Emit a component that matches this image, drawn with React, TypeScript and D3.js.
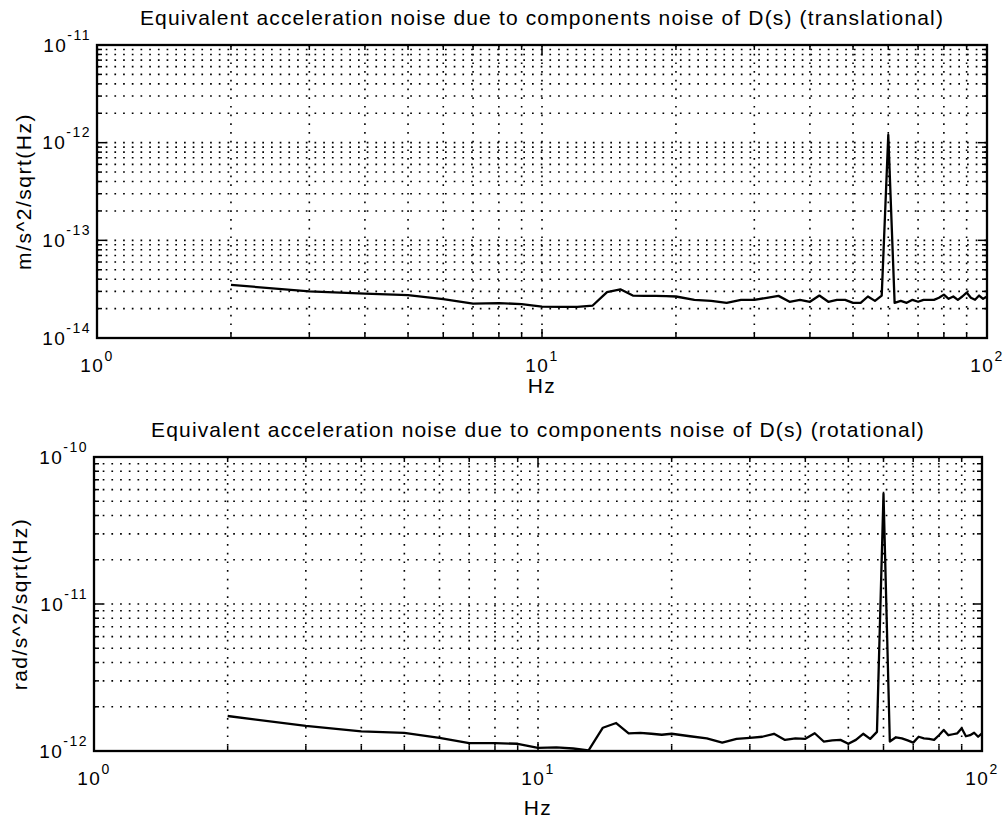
import * as d3 from 'd3';

// frequency bins (Hz)
const freqHz = [
  2, 3, 4, 5, 6, 7, 8, 9, 10, 11, 12, 13, 14, 15, 16, 17, 18, 19, 20,
  22, 24, 26, 28, 30, 32, 34, 36, 38, 40, 42, 44, 46, 48, 50, 52, 54, 56, 58,
  60, 62, 64, 66, 68, 70, 72, 74, 76, 78, 80, 82, 84, 86, 88, 90, 92, 94, 96, 98, 100,
];

// translational noise, units of 1e-14 m/s^2/sqrt(Hz)
const translational = [
  3.5, 3.0, 2.85, 2.75, 2.5, 2.25, 2.28, 2.22, 2.1, 2.08, 2.08, 2.15, 2.95, 3.15, 2.72, 2.7, 2.7, 2.68, 2.66,
  2.46, 2.4, 2.29, 2.46, 2.46, 2.58, 2.7, 2.35, 2.46, 2.35, 2.72, 2.35, 2.46, 2.46, 2.29, 2.29, 2.66, 2.4, 2.72,
  120, 2.29, 2.4, 2.29, 2.46, 2.35, 2.46, 2.46, 2.46, 2.58, 2.78, 2.52, 2.66, 2.46, 2.66, 2.92, 2.58, 2.46, 2.72, 2.52, 2.66,
];

// rotational noise, units of 1e-12 rad/s^2/sqrt(Hz)
const rotational = [
  1.73, 1.48, 1.36, 1.33, 1.23, 1.13, 1.13, 1.12, 1.05, 1.06, 1.04, 1.01, 1.44, 1.55, 1.32, 1.33, 1.31, 1.29, 1.31,
  1.26, 1.22, 1.14, 1.21, 1.23, 1.25, 1.31, 1.19, 1.22, 1.21, 1.32, 1.16, 1.18, 1.19, 1.12, 1.19, 1.31, 1.21, 1.35,
  56, 1.16, 1.24, 1.22, 1.18, 1.14, 1.25, 1.22, 1.21, 1.19, 1.28, 1.39, 1.28, 1.30, 1.32, 1.43, 1.26, 1.28, 1.33, 1.25, 1.32,
];

const xTickExp = [0, 1, 2];
const topYExp = [-14, -13, -12, -11];
const botYExp = [-12, -11, -10];

const FONT = '"Liberation Sans", Arial, Helvetica, sans-serif';
const DOT = '1.7 7.0';

interface PanelProps {
  left: number; right: number; top: number; bottom: number;
  yExp: number[]; unit: number; values: number[];
  title: string; ylabel: string; titleY: number; hzY: number; ylabelX: number;
}

function minorTicks(lo: number, hi: number) {
  const out: number[] = [];
  for (let e = lo; e < hi; e++) for (let k = 1; k < 10; k++) out.push(k * Math.pow(10, e));
  out.push(Math.pow(10, hi));
  return out;
}

function Panel(p: PanelProps) {
  const x = d3.scaleLog().domain([1, 100]).range([p.left, p.right]);
  const lo = p.yExp[0], hi = p.yExp[p.yExp.length - 1];
  const y = d3.scaleLog().domain([Math.pow(10, lo), Math.pow(10, hi)]).range([p.bottom, p.top]);
  const xt = minorTicks(0, 2);
  const yt = minorTicks(lo, hi);
  const isMajor = (v: number) => Math.abs(Math.log10(v) - Math.round(Math.log10(v))) < 1e-9;

  const line = d3.line<number>()
    .x((_, i) => x(freqHz[i]))
    .y(d => y(d * p.unit));

  const cx = (p.left + p.right) / 2;
  const cy = (p.top + p.bottom) / 2;

  return (
    <g fontFamily={FONT} fill="#000">
      {/* grid */}
      {xt.filter(v => v > 1 && v < 100).map(v => (
        <line key={'gx' + v} x1={x(v)} x2={x(v)} y1={p.top} y2={p.bottom}
          stroke="#000" strokeWidth={1.6} strokeDasharray={DOT} />
      ))}
      {yt.filter((_, i) => i > 0 && i < yt.length - 1).map(v => (
        <line key={'gy' + v} x1={p.left} x2={p.right} y1={y(v)} y2={y(v)}
          stroke="#000" strokeWidth={1.6} strokeDasharray={DOT} />
      ))}

      {/* ticks */}
      {xt.map(v => {
        const len = isMajor(v) ? 9 : 5;
        return (
          <g key={'tx' + v}>
            <line x1={x(v)} x2={x(v)} y1={p.bottom} y2={p.bottom - len} stroke="#000" strokeWidth={1.5} />
            <line x1={x(v)} x2={x(v)} y1={p.top} y2={p.top + len} stroke="#000" strokeWidth={1.5} />
          </g>
        );
      })}
      {yt.map(v => {
        const len = isMajor(v) ? 9 : 5;
        return (
          <g key={'ty' + v}>
            <line x1={p.left} x2={p.left + len} y1={y(v)} y2={y(v)} stroke="#000" strokeWidth={1.5} />
            <line x1={p.right} x2={p.right - len} y1={y(v)} y2={y(v)} stroke="#000" strokeWidth={1.5} />
          </g>
        );
      })}

      {/* data */}
      <path d={line(p.values) ?? ''} fill="none" stroke="#000" strokeWidth={2.3} strokeLinejoin="round" />

      {/* frame */}
      <rect x={p.left} y={p.top} width={p.right - p.left} height={p.bottom - p.top}
        fill="none" stroke="#000" strokeWidth={2.3} />

      {/* x tick labels */}
      {xTickExp.map(e => (
        <text key={'lx' + e} x={x(Math.pow(10, e))} y={p.bottom + 34} textAnchor="middle"
          fontSize={19} letterSpacing={1.5}>
          10<tspan dy={-11} fontSize={14}>{e}</tspan>
        </text>
      ))}
      {/* y tick labels */}
      {p.yExp.map(e => (
        <text key={'ly' + e} x={p.left - 6} y={y(Math.pow(10, e)) + 6.5} textAnchor="end"
          fontSize={19} letterSpacing={1.5}>
          10<tspan dy={-12} fontSize={14}>{'-' + Math.abs(e)}</tspan>
        </text>
      ))}

      <text x={cx} y={p.titleY} textAnchor="middle" fontSize={21} letterSpacing={1.15}>{p.title}</text>
      <text x={cx} y={p.hzY} textAnchor="middle" fontSize={21} letterSpacing={1.5}>Hz</text>
      <text transform={`translate(${p.ylabelX},${cy}) rotate(-90)`} textAnchor="middle"
        fontSize={21} letterSpacing={1.5}>{p.ylabel}</text>
    </g>
  );
}

export default function App() {
  return (
    <div style={{ position: 'absolute', left: 0, top: 0 }}>
      <svg width={1006} height={821} style={{ display: 'block', background: '#fff' }}>
        <rect width={1006} height={821} fill="#fff" />
        <Panel left={97} right={987} top={45} bottom={338} yExp={topYExp} unit={1e-14}
          values={translational}
          title="Equivalent acceleration noise due to components noise of D(s) (translational)"
          ylabel="m/s^2/sqrt(Hz)" titleY={25} hzY={393} ylabelX={31} />
        <Panel left={94} right={982} top={457} bottom={751} yExp={botYExp} unit={1e-12}
          values={rotational}
          title="Equivalent acceleration noise due to components noise of D(s) (rotational)"
          ylabel="rad/s^2/sqrt(Hz)" titleY={437} hzY={815} ylabelX={27} />
      </svg>
    </div>
  );
}
